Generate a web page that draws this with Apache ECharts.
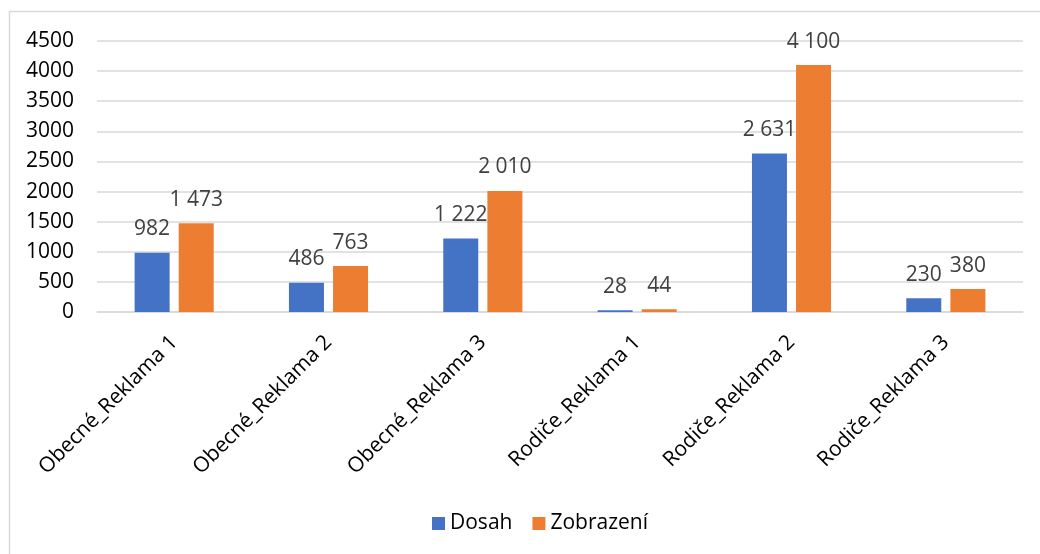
<!DOCTYPE html>
<html>
<head>
    <meta charset="utf-8">
    <title>Dosah a zobrazení reklam</title>
    <script src="https://cdn.jsdelivr.net/npm/echarts@6/dist/echarts.min.js"></script>
    <style>
        html, body { margin: 0; padding: 0; background: #fff; }
        #main { width: 1040px; height: 554px; }
    </style>
</head>
<body>
    <div id="main"></div>
    <script type="text/javascript">
        // data
        var categories = ['Obecné_Reklama 1', 'Obecné_Reklama 2', 'Obecné_Reklama 3', 'Rodiče_Reklama 1', 'Rodiče_Reklama 2', 'Rodiče_Reklama 3'];
        var dosahData = [982, 486, 1222, 28, 2631, 230];
        var zobrazeniData = [1473, 763, 2010, 44, 4100, 380];
        var yTicks = [0, 500, 1000, 1500, 2000, 2500, 3000, 3500, 4000, 4500];

        var font = '"Open Sans", sans-serif';
        var fs = 21;

        function fmt(v) { // mezera jako oddělovač tisíců
            return String(v).replace(/\B(?=(\d{3})+(?!\d))/g, ' ');
        }

        var myChart = echarts.init(document.getElementById('main'));

        var option = {
            backgroundColor: '#fff',
            textStyle: { fontFamily: font },
            graphic: [{
                type: 'rect',
                shape: { x: 9.5, y: 11.5, width: 1060, height: 580 },
                style: { fill: 'none', stroke: '#d9d9d9', lineWidth: 1.5 },
                silent: true
            }],
            legend: {
                left: 427,
                top: 508,
                itemWidth: 13,
                itemHeight: 13,
                itemGap: 20,
                icon: 'rect',
                textStyle: { fontFamily: font, fontSize: fs, color: '#000' },
                data: ['Dosah', 'Zobrazení']
            },
            grid: {
                left: 97,
                right: 17,
                top: 41,
                bottom: 242,
                containLabel: false
            },
            xAxis: {
                type: 'category',
                data: categories,
                axisTick: { show: false },
                axisLine: { lineStyle: { color: '#d9d9d9', width: 1.5 } },
                axisLabel: {
                    interval: 0,
                    rotate: 45,
                    margin: 27,
                    fontFamily: font,
                    fontSize: fs,
                    color: '#000'
                }
            },
            yAxis: {
                type: 'value',
                min: yTicks[0],
                max: yTicks[yTicks.length - 1],
                interval: 500,
                axisLine: { show: false },
                axisTick: { show: false },
                axisLabel: {
                    margin: 23,
                    fontFamily: font,
                    fontSize: fs,
                    color: '#000',
                    formatter: function(v) { return String(v); }
                },
                splitLine: { lineStyle: { color: '#d9d9d9', width: 1.5 } }
            },
            series: [{
                name: 'Dosah',
                type: 'bar',
                barWidth: 35,
                barGap: '26%',
                itemStyle: { color: '#4472C4' },
                label: {
                    show: true,
                    position: 'top',
                    distance: 13,
                    fontFamily: font,
                    fontSize: fs,
                    color: '#404040',
                    formatter: function(p) { return fmt(p.value); }
                },
                data: dosahData
            }, {
                name: 'Zobrazení',
                type: 'bar',
                barWidth: 35,
                itemStyle: { color: '#ED7D31' },
                label: {
                    show: true,
                    position: 'top',
                    distance: 13,
                    fontFamily: font,
                    fontSize: fs,
                    color: '#404040',
                    formatter: function(p) { return fmt(p.value); }
                },
                data: zobrazeniData
            }]
        };

        myChart.setOption(option);
        window.onresize = myChart.resize;
    </script>
</body>
</html>
